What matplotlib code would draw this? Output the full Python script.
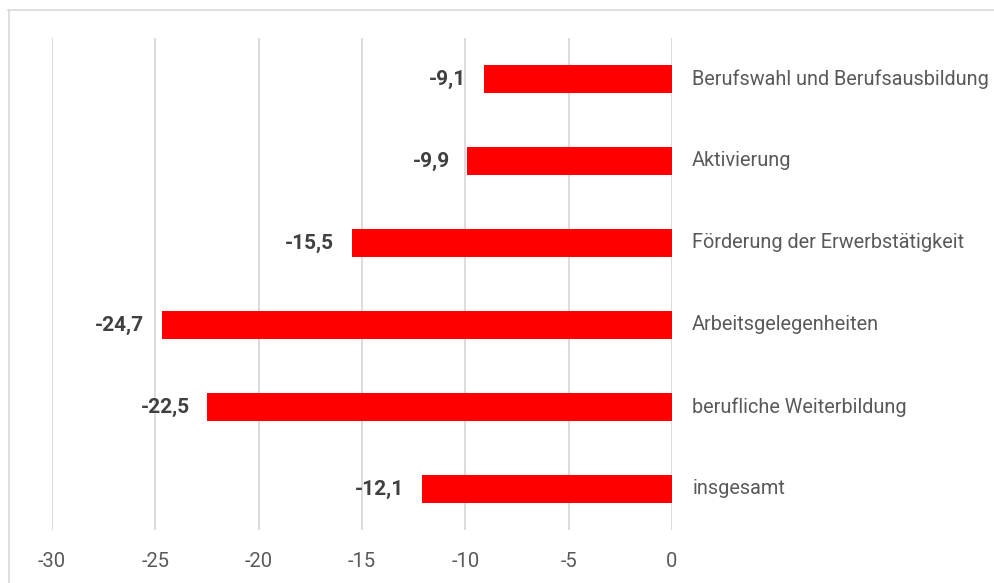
import matplotlib
matplotlib.use("Agg")
import matplotlib.pyplot as plt
from matplotlib.lines import Line2D

categories = ["Berufswahl und Berufsausbildung", "Aktivierung", "Förderung der Erwerbstätigkeit",
              "Arbeitsgelegenheiten", "berufliche Weiterbildung", "insgesamt"]
values = [-9.1, -9.9, -15.5, -24.7, -22.5, -12.1]
xticks = [-30, -25, -20, -15, -10, -5, 0]

plt.rcParams['font.family'] = ['Roboto', 'DejaVu Sans']

W, H = 994, 583
fig = plt.figure(figsize=(W / 100, H / 100), dpi=100)
# chart frame (top and left edges visible)
fig.add_artist(Line2D([8 / W, 1.0], [1 - 9.5 / H, 1 - 9.5 / H], transform=fig.transFigure,
                      color='#d9d9d9', linewidth=1.2))
fig.add_artist(Line2D([8.5 / W, 8.5 / W], [0, 1 - 9.5 / H], transform=fig.transFigure,
                      color='#d9d9d9', linewidth=1.2))

ax = fig.add_axes([52 / W, (H - 530) / H, 620 / W, 492 / H])
ypos = list(range(len(categories)))
ax.barh(ypos, values, height=0.35, color='#ff0000', zorder=3)
ax.set_xlim(-30, 0)
ax.set_ylim(len(categories) - 0.5, -0.5)
ax.set_xticks(xticks)
ax.set_xticklabels([str(t) for t in xticks])
ax.set_yticks([])
ax.grid(axis='x', color='#d9d9d9', linewidth=1.3, zorder=0)
for s in ax.spines.values():
    s.set_visible(False)
ax.tick_params(axis='x', length=0, pad=16, labelsize=14.5, labelcolor='#595959')

for y, v, c in zip(ypos, values, categories):
    ax.annotate(f"{v:.1f}".replace('.', ','), xy=(v, y), xytext=(-12.5, 0), textcoords='offset points',
                ha='right', va='center', fontsize=15, fontweight='bold', color='#404040',
                annotation_clip=False)
    ax.annotate(c, xy=(0, y), xytext=(14.5, 0), textcoords='offset points', ha='left', va='center',
                fontsize=14.3, color='#595959', annotation_clip=False)

fig.savefig("out.png", dpi=100)
